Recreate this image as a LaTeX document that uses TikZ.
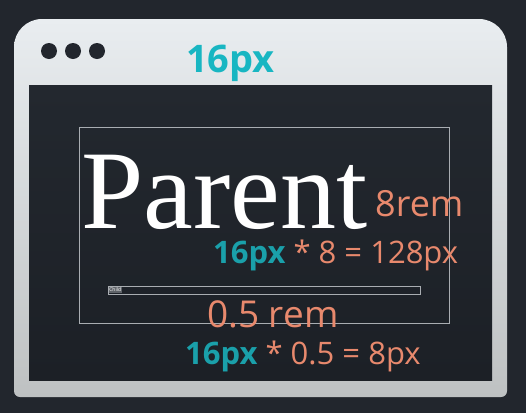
\documentclass[tikz,border=0pt]{standalone}
\usepackage{fontspec}
\setmainfont{Liberation Serif}
\setsansfont{Open Sans}
\usepackage{tikz}
\usetikzlibrary{positioning}
\usepackage{xcolor}

\definecolor{bgdark}{HTML}{22262D}
\definecolor{winlight}{HTML}{E9EDF0}
\definecolor{wingray}{HTML}{BEC1C2}
\definecolor{screentop}{HTML}{23282F}
\definecolor{screenbot}{HTML}{1C2026}
\definecolor{tealhi}{HTML}{18B6C2}
\definecolor{teallo}{HTML}{1AA0AA}
\definecolor{salmon}{HTML}{E8896D}
\definecolor{boxline}{HTML}{A9ADB2}

\tikzset{
    sizebox/.style={draw=boxline, line width=0.9pt, rectangle, inner sep=0pt},
    remlabel/.style={anchor=base west, inner sep=0pt, text=salmon, font=\sffamily},
    calclabel/.style={anchor=base west, inner sep=0pt, text=salmon, font=\sffamily}
}

\newcommand{\pxbase}[1]{{\bfseries\color{teallo}#1}}

\begin{document}
\begin{tikzpicture}[x=1pt, y=-1pt]
    \fill[bgdark] (0,0) rectangle (526,413);
    \useasboundingbox (0,0) rectangle (526,413);

    % browser window
    \shade[top color=winlight, bottom color=wingray] (14,47) arc (180:270:28) -- (479,19) arc (270:360:28) -- (507,391) arc (0:90:6) -- (20,397) arc (90:180:6) -- cycle;
    \shade[top color=screentop, bottom color=screenbot] (29,85) rectangle (492,380);
    \foreach \x in {49,73,97}
        \fill[bgdark] (\x,51) circle (8);

    \node[anchor=base west, inner sep=0pt, text=tealhi, font=\sffamily\bfseries\fontsize{38}{38}\selectfont] (rootsize) at (186,72) {16px};

    % parent element
    \node[sizebox, minimum width=370pt, minimum height=196pt] (parentbox) at (264,225) {};
    \node[anchor=base west, inner sep=0pt, text=white, font=\fontsize{112}{112}\selectfont] (parent) at (81,228) {Parent};
    \node[remlabel, font=\sffamily\fontsize{36}{36}\selectfont] (parentrem) at (375,216) {8rem};
    \node[calclabel, font=\sffamily\fontsize{31}{31}\selectfont] (parentcalc) at (213,263) {\pxbase{16px} * 8 = 128px};

    % child element
    \node[sizebox, minimum width=312pt, minimum height=8pt] (childbox) at (264,290) {};
    \node[anchor=west, inner sep=0.6pt, fill=boxline!45!bgdark, text=white, font=\sffamily\fontsize{5}{5}\selectfont] (child) at (108.5,290) {Child};
    \node[remlabel, font=\sffamily\fontsize{37}{37}\selectfont] (childrem) at (207,327) {0.5 rem};
    \node[calclabel, font=\sffamily\fontsize{31}{31}\selectfont] (childcalc) at (185,364) {\pxbase{16px} * 0.5 = 8px};
\end{tikzpicture}
\end{document}
